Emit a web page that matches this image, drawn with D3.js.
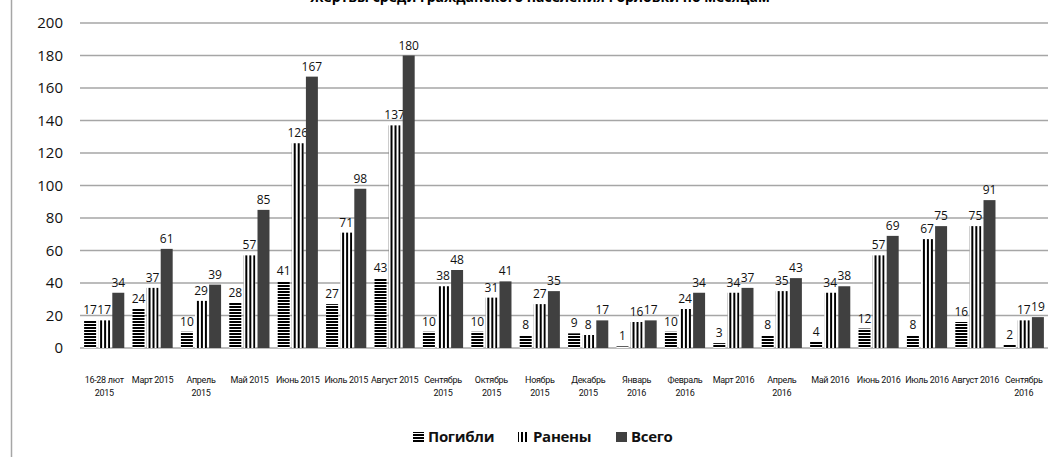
<!DOCTYPE html>
<html>
<head>
<meta charset="utf-8">
<script src="https://cdn.jsdelivr.net/npm/d3@7"></script>
<style>
  body { margin: 0; background: #fff; }
  text { font-family: "Open Sans", "Noto Sans", sans-serif; }
  .xlab { font-family: Roboto, "Noto Sans", sans-serif; }
</style>
</head>
<body>
<div id="chart"></div>
<script>
// month labels (second line after \n)
var months = ["16-28 лют\n2015", "Март 2015", "Апрель\n2015", "Май 2015", "Июнь 2015", "Июль 2015",
  "Август 2015", "Сентябрь\n2015", "Октябрь\n2015", "Ноябрь\n2015", "Декабрь\n2015", "Январь\n2016",
  "Февраль\n2016", "Март 2016", "Апрель\n2016", "Май 2016", "Июнь 2016", "Июль 2016", "Август 2016",
  "Сентябрь\n2016"]
var killed  = [17, 24, 10, 28, 41, 27, 43, 10, 10, 8, 9, 1, 10, 3, 8, 4, 12, 8, 16, 2]
var wounded = [17, 37, 29, 57, 126, 71, 137, 38, 31, 27, 8, 16, 24, 34, 35, 34, 57, 67, 75, 17]
var total   = [34, 61, 39, 85, 167, 98, 180, 48, 41, 35, 17, 17, 34, 37, 43, 38, 69, 75, 91, 19]
var seriesNames = ["Погибли", "Ранены", "Всего"]
var yTicks = [0, 20, 40, 60, 80, 100, 120, 140, 160, 180, 200]
var title = "Жертвы среди гражданского населения Горловки по месяцам"

var width = 1055, height = 457
var margin = {left: 80, right: 7, top: 23, bottom: 109}

var svg = d3.select("#chart").append("svg")
    .attr("width", width)
    .attr("height", height)

// fills
var defs = svg.append("defs")
var ph = defs.append("pattern").attr("id", "hstripe")
    .attr("patternUnits", "userSpaceOnUse").attr("width", 4).attr("height", 3)
ph.append("rect").attr("width", 4).attr("height", 3).attr("fill", "#fff")
ph.append("rect").attr("width", 4).attr("height", 2).attr("fill", "#000")
var pv = defs.append("pattern").attr("id", "vstripe")
    .attr("patternUnits", "userSpaceOnUse").attr("width", 4).attr("height", 4)
pv.append("rect").attr("width", 4).attr("height", 4).attr("fill", "#fff")
pv.append("rect").attr("width", 2).attr("height", 4).attr("fill", "#000")
var fills = ["url(#hstripe)", "url(#vstripe)", "#404040"]

// left frame line
svg.append("line").attr("x1", 11.5).attr("x2", 11.5).attr("y1", 0).attr("y2", height)
    .attr("stroke", "#a6a6a6").attr("stroke-width", 1.5)

// title is clipped by the top edge, as in the source
svg.append("text").attr("x", 540).attr("y", 2)
    .attr("text-anchor", "middle").attr("font-weight", "bold").attr("font-size", 14)
    .text(title)

var x0 = d3.scaleBand().domain(d3.range(months.length))
    .range([margin.left, width - margin.right]).paddingInner(0.17).paddingOuter(0.085)
var x1 = d3.scaleBand().domain([0, 1, 2]).range([0, x0.bandwidth()]).paddingInner(0.15)
var y = d3.scaleLinear().domain([0, 200]).range([height - margin.bottom, margin.top])

// grid
svg.append("g").selectAll("line").data(yTicks).join("line")
    .attr("x1", margin.left).attr("x2", width - margin.right)
    .attr("y1", d => y(d)).attr("y2", d => y(d))
    .attr("stroke", "#a6a6a6").attr("stroke-width", 1.5)

svg.append("g").selectAll("text").data(yTicks).join("text")
    .attr("x", 63).attr("y", d => y(d)).attr("dy", "0.35em")
    .attr("text-anchor", "end").attr("font-size", 15).attr("fill", "#111")
    .text(d => d)

var series = [killed, wounded, total]
var groups = svg.append("g").selectAll("g").data(months).join("g")
    .attr("transform", (d, i) => "translate(" + x0(i) + ",0)")

groups.each(function (m, i) {
  var g = d3.select(this)
  series.forEach(function (s, k) {
    g.append("rect")
      .attr("x", x1(k)).attr("width", x1.bandwidth())
      .attr("y", y(s[i])).attr("height", y(0) - y(s[i]))
      .attr("fill", fills[k])
    g.append("text")
      .attr("x", x1(k) + x1.bandwidth() / 2).attr("y", y(s[i]) - 6)
      .attr("text-anchor", "middle").attr("font-size", 12).attr("fill", "#111")
      .text(s[i])
  })
  var lines = m.split("\n")
  var t = g.append("text").attr("class", "xlab").attr("text-anchor", "middle")
      .attr("font-size", 9).attr("letter-spacing", -0.3).attr("fill", "#111")
  lines.forEach(function (l, j) {
    t.append("tspan").attr("x", x0.bandwidth() / 2).attr("y", 383 + j * 13).text(l)
  })
})

// legend
var legend = svg.append("g").attr("transform", "translate(413,437)")
var lx = [0, 105, 203]
seriesNames.forEach(function (n, k) {
  legend.append("rect").attr("x", lx[k]).attr("y", -5).attr("width", 11).attr("height", 10)
    .attr("fill", fills[k])
  legend.append("text").attr("x", lx[k] + 15).attr("y", 0).attr("dy", "0.35em")
    .attr("font-size", 15).attr("font-weight", "bold").attr("fill", "#111")
    .attr("letter-spacing", -0.3)
    .text(n)
})
</script>
</body>
</html>
